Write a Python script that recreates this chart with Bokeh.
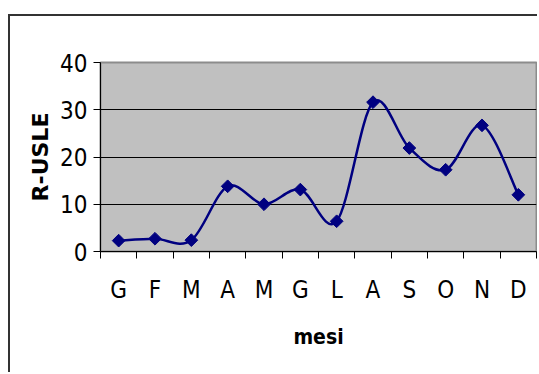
import numpy as np
from bokeh.plotting import figure
from bokeh.models import Range1d, FixedTicker, ColumnDataSource
from bokeh.embed import file_html
from bokeh.resources import INLINE

# ---- data ----
months = ["G", "F", "M", "A", "M", "G", "L", "A", "S", "O", "N", "D"]
r_usle = [2.3, 2.7, 2.4, 13.8, 10.0, 13.1, 6.4, 31.6, 21.9, 17.3, 26.7, 12.0]
y_ticks = [0, 10, 20, 30, 40]

NARROW = "Liberation Sans Narrow, DejaVu Sans Condensed, Liberation Sans, sans-serif"

x = np.arange(len(months)) + 0.5
y = np.array(r_usle, dtype=float)

# smoothed line (Catmull-Rom -> cubic Bezier), like a smoothed spreadsheet line
xp = np.concatenate([[x[0]], x, [x[-1]]])
yp = np.concatenate([[y[0]], y, [y[-1]]])
x0, y0 = xp[1:-2], yp[1:-2]
x1, y1 = xp[2:-1], yp[2:-1]
cx0 = x0 + (xp[2:-1] - xp[0:-3]) / 6.0
cy0 = y0 + (yp[2:-1] - yp[0:-3]) / 6.0
cx1 = x1 - (xp[3:] - xp[1:-2]) / 6.0
cy1 = y1 - (yp[3:] - yp[1:-2]) / 6.0

p = figure(width=529, height=358, output_backend="svg", toolbar_location=None,
           x_range=Range1d(0, len(months)), y_range=Range1d(0, 40),
           min_border_left=90, min_border_right=3, min_border_top=46,
           min_border_bottom=123)
p.margin = (14, 0, 0, 8)
p.styles = {"border-left": "2px solid #333333", "border-top": "2px solid #333333"}

p.background_fill_color = "#C0C0C0"
p.border_fill_color = "white"
p.outline_line_color = "#8C8C8C"
p.outline_line_width = 2

# grid
p.xgrid.grid_line_color = None
p.ygrid.grid_line_color = "black"
p.ygrid.grid_line_width = 1
p.ygrid.ticker = FixedTicker(ticks=y_ticks)

# x axis
p.xaxis.ticker = FixedTicker(ticks=list(x), minor_ticks=list(range(len(months) + 1)))
p.xaxis.major_label_overrides = {float(xx): m for xx, m in zip(x, months)}
p.xaxis.major_tick_line_color = None
p.xaxis.minor_tick_line_color = "black"
p.xaxis.minor_tick_out = 7
p.xaxis.minor_tick_in = 0
p.xaxis.axis_line_color = "black"
p.xaxis.major_label_text_font = NARROW
p.xaxis.major_label_text_font_size = "24px"
p.xaxis.major_label_text_color = "black"
p.xaxis.major_label_standoff = 17
p.xaxis.axis_label = "mesi"
p.xaxis.axis_label_text_font = NARROW
p.xaxis.axis_label_text_font_style = "bold"
p.xaxis.axis_label_text_font_size = "21px"
p.xaxis.axis_label_text_color = "black"
p.xaxis.axis_label_standoff = 18

# y axis
p.yaxis.ticker = FixedTicker(ticks=y_ticks)
p.yaxis.minor_tick_line_color = None
p.yaxis.major_tick_out = 7
p.yaxis.major_tick_in = 0
p.yaxis.axis_line_color = "black"
p.yaxis.major_tick_line_color = "black"
p.yaxis.major_label_text_font = NARROW
p.yaxis.major_label_text_font_size = "24px"
p.yaxis.major_label_text_color = "black"
p.yaxis.major_label_standoff = 6
p.yaxis.axis_label = "R-USLE"
p.yaxis.axis_label_text_font = "DejaVu Sans"
p.yaxis.axis_label_text_font_style = "bold"
p.yaxis.axis_label_text_font_size = "22px"
p.yaxis.axis_label_text_color = "black"
p.yaxis.axis_label_standoff = 4

src = ColumnDataSource(dict(x0=x0, y0=y0, x1=x1, y1=y1, cx0=cx0, cy0=cy0, cx1=cx1, cy1=cy1))
p.bezier(x0="x0", y0="y0", x1="x1", y1="y1", cx0="cx0", cy0="cy0", cx1="cx1", cy1="cy1",
         source=src, line_color="#000080", line_width=2.5)
p.scatter(x=x, y=y, marker="square", angle=np.pi / 4, size=9,
          fill_color="#000080", line_color="#000080", line_width=1)

open("out.html", "w").write(file_html(p, INLINE))
